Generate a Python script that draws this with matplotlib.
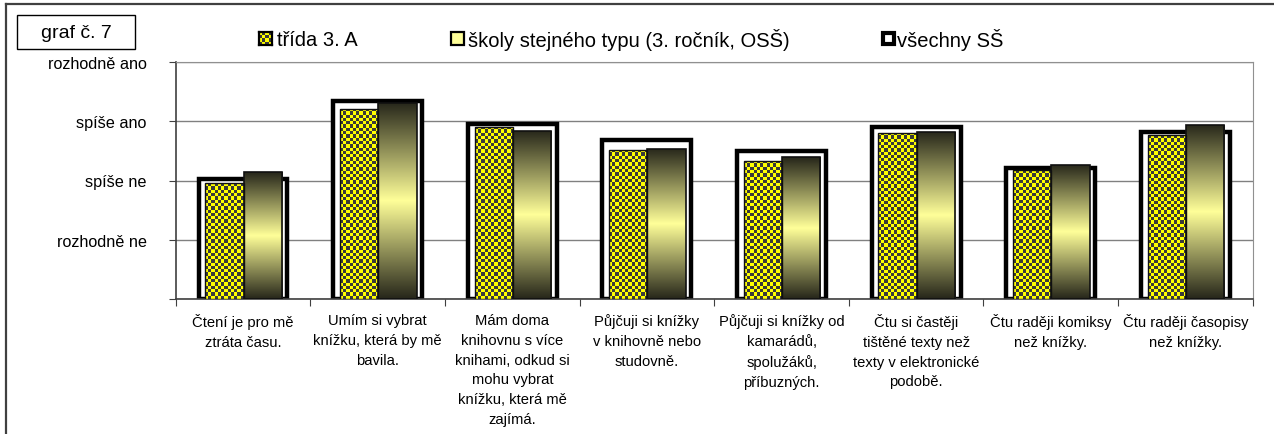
import numpy as np
import matplotlib
matplotlib.use("Agg")
import matplotlib.pyplot as plt
from matplotlib.patches import Rectangle
from matplotlib.lines import Line2D
from matplotlib.colors import LinearSegmentedColormap, ListedColormap

plt.rcParams['font.family'] = ['Liberation Sans', 'DejaVu Sans']

categories = [
    "Čtení je pro mě\nztráta času.",
    "Umím si vybrat\nknížku, která by mě\nbavila.",
    "Mám doma\nknihovnu s více\nknihami, odkud si\nmohu vybrat\nknížku, která mě\nzajímá.",
    "Půjčuji si knížky\nv knihovně nebo\nstudovně.",
    "Půjčuji si knížky od\nkamarádů,\nspolužáků,\npříbuzných.",
    "Čtu si častěji\ntištěné texty než\ntexty v elektronické\npodobě.",
    "Čtu raději komiksy\nnež knížky.",
    "Čtu raději časopisy\nnež knížky.",
]
trida = [1.95, 3.21, 2.91, 2.52, 2.33, 2.81, 2.17, 2.76]
skoly = [2.14, 3.31, 2.84, 2.54, 2.39, 2.82, 2.27, 2.94]
vsechny = [2.03, 3.34, 2.95, 2.68, 2.49, 2.91, 2.21, 2.82]
series_names = ["třída 3. A", "školy stejného typu (3. ročník, OSŠ)", "všechny SŠ"]
y_labels = ["", "rozhodně ne", "spíše ne", "spíše ano", "rozhodně ano"]

W, H = 1274, 435
fig = plt.figure(figsize=(W / 100, H / 100), dpi=100)


def px(x, y):
    return x / W, 1 - y / H


ax = fig.add_axes([175.7 / W, 1 - 300 / H, (1252.7 - 175.7) / W, (300 - 63) / H])
n = len(categories)
x = np.arange(n)

grad_cmap = LinearSegmentedColormap.from_list("g", ["#26261a", "#ffff99", "#26261a"])
check_cmap = ListedColormap(["#ffff00", "#3a3a3a"])
grad = np.linspace(0, 1, 256).reshape(-1, 1)

# all schools: white bar, thick black outline, behind
ax.bar(x, vsechny, width=0.66, color="white", edgecolor="black", linewidth=3.2, zorder=2)

# class bars with checker texture
tb = ax.bar(x - 0.138, trida, width=0.285, color="none", edgecolor="#101010", linewidth=1.0, zorder=4)
for r in tb:
    x0, w, h = r.get_x(), r.get_width(), r.get_height()
    nx = 12
    ny = int(round(h * 18))
    ii, jj = np.indices((ny, nx))
    img = ax.imshow((ii + jj) % 2, cmap=check_cmap, extent=[x0, x0 + w, 0, h],
                    aspect="auto", interpolation="nearest", zorder=3, origin="lower")
    img.set_clip_path(r)

# same-type schools: vertical gradient
sb = ax.bar(x + 0.147, skoly, width=0.285, color="none", edgecolor="#101010", linewidth=1.2, zorder=4)
for r in sb:
    x0, w, h = r.get_x(), r.get_width(), r.get_height()
    img = ax.imshow(grad, cmap=grad_cmap, extent=[x0, x0 + w, 0, h],
                    aspect="auto", zorder=3, origin="lower")
    img.set_clip_path(r)

ax.set_xlim(-0.5, n - 0.5)
ax.set_ylim(0, 4)
ax.set_yticks(range(5))
ax.set_yticklabels(y_labels, fontsize=11.7)
ax.tick_params(axis="y", direction="out", length=5, pad=16, color="#404040")
ax.set_xticks(np.arange(-0.5, n, 1.0))
ax.set_xticklabels([])
ax.tick_params(axis="x", which="major", direction="out", length=5, color="#404040")
ax.set_xticks(x, minor=True)
ax.set_xticklabels(categories, minor=True, fontsize=10.6, linespacing=1.53, va="top")
ax.tick_params(axis="x", which="minor", length=0, pad=10)
ax.grid(axis="y", color="#808080", linewidth=1.0, zorder=1)
ax.set_axisbelow(True)
for s in ["top", "right"]:
    ax.spines[s].set_color("#909090")
for s in ["left", "bottom"]:
    ax.spines[s].set_color("#404040")
    ax.spines[s].set_linewidth(1.2)

# outer frame (top and left visible)
fig.add_artist(Line2D([6 / W, 1], [1 - 5 / H, 1 - 5 / H], transform=fig.transFigure, color="#404040", lw=1.6))
fig.add_artist(Line2D([6 / W, 6 / W], [0, 1 - 5 / H], transform=fig.transFigure, color="#404040", lw=1.6))

# label box
bx0, by0 = px(17, 50)
fig.add_artist(Rectangle((bx0, by0), 118 / W, 34 / H, transform=fig.transFigure,
                         facecolor="white", edgecolor="black", lw=1.0))
fig.text(*px(76, 33), "graf č. 7", fontsize=14, ha="center", va="center")

# legend
mx, my = px(259, 45.5)
lax = fig.add_axes([mx, my, 12.5 / W, 12.5 / H])
ii, jj = np.indices((4, 4))
lax.imshow((ii + jj) % 2, cmap=check_cmap, interpolation="nearest", aspect="auto")
lax.set_xticks([])
lax.set_yticks([])
for s in lax.spines.values():
    s.set_linewidth(1.6)
fig.text(*px(277, 40), series_names[0], fontsize=14.5, va="center")

mx, my = px(451, 45.5)
fig.add_artist(Rectangle((mx, my), 12.5 / W, 12.5 / H, transform=fig.transFigure,
                         facecolor="#ffff99", edgecolor="black", lw=1.6))
fig.text(*px(468, 40), series_names[1], fontsize=14.5, va="center")

mx, my = px(883, 45)
fig.add_artist(Rectangle((mx, my), 11 / W, 11 / H, transform=fig.transFigure,
                         facecolor="white", edgecolor="black", lw=3.0))
fig.text(*px(897, 40), series_names[2], fontsize=14.5, va="center")

fig.savefig("out.png", dpi=100)
